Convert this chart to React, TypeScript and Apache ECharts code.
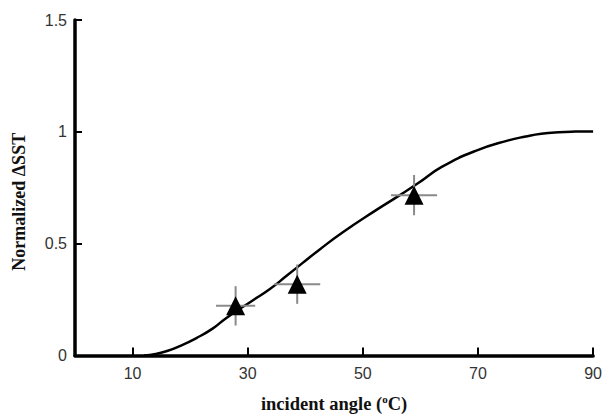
import React, { useEffect, useRef } from "react";
import * as echarts from "echarts";

// Fitted curve
const curveX = [12, 14, 16, 18.2, 21.1, 23.9, 26.3, 30.8, 33.8, 36.7, 39.5, 42.4, 46.4, 52.3, 56.3, 59.7, 63.7, 69.6, 75.3, 78.3, 81.0, 84.0, 86.9, 90];
const curveY = [0, 0.007, 0.02, 0.042, 0.078, 0.12, 0.168, 0.245, 0.296, 0.355, 0.413, 0.472, 0.549, 0.65, 0.715, 0.772, 0.843, 0.915, 0.962, 0.979, 0.991, 0.998, 1.001, 1.002];

// Measured points with error bars
const ptX = [27.9, 38.6, 58.9];
const ptY = [0.222, 0.319, 0.717];
const ptXErr = [3.4, 4.0, 4.0];
const ptYErr = [0.088, 0.088, 0.09];

const xTickValues = [10, 30, 50, 70, 90];

export default function App() {
  const ref = useRef<HTMLDivElement>(null);
  useEffect(() => {
    const chart = echarts.init(ref.current!, null, { renderer: "svg" });
    const curveData = curveX.map((x, i) => [x, curveY[i]]);
    const ptData = ptX.map((x, i) => [x, ptY[i], ptXErr[i], ptYErr[i]]);
    chart.setOption({
      animation: false,
      backgroundColor: "#fff",
      grid: { left: 75, right: 11, top: 20, bottom: 59 },
      xAxis: {
        type: "value",
        min: 0,
        max: 90,
        name: "incident angle ({sup|o}C)",
        nameLocation: "middle",
        nameGap: 38,
        nameTextStyle: {
          fontFamily: "Liberation Serif",
          fontWeight: "bold",
          fontSize: 18.5,
          color: "#111",
          rich: {
            sup: { fontFamily: "Liberation Serif", fontWeight: "bold", fontSize: 11, color: "#111", verticalAlign: "top", padding: [0, 0, 9, 0] },
          },
        },
        axisLine: { show: true, onZero: false, lineStyle: { color: "#000", width: 3.5 } },
        axisTick: { show: true, inside: true, length: 8, customValues: xTickValues, lineStyle: { color: "#000", width: 2 } },
        axisLabel: { customValues: xTickValues, fontFamily: "Liberation Sans", fontSize: 16, color: "#333", margin: 10 },
        splitLine: { show: false },
      },
      yAxis: {
        type: "value",
        min: 0,
        max: 1.5,
        interval: 0.5,
        name: "Normalized ΔSST",
        nameLocation: "middle",
        nameGap: 47,
        nameTextStyle: {
          fontFamily: "Liberation Serif",
          fontWeight: "bold",
          fontSize: 18,
          color: "#111",
          padding: [0, 28, 0, 0],
        },
        axisLine: { show: true, onZero: false, lineStyle: { color: "#000", width: 3.5 } },
        axisTick: { show: true, inside: true, length: 7, lineStyle: { color: "#000", width: 2 } },
        axisLabel: { fontFamily: "Liberation Sans", fontSize: 16, color: "#333", margin: 8 },
        splitLine: { show: false },
      },
      series: [
        {
          type: "line",
          data: curveData,
          smooth: 0.5,
          showSymbol: false,
          lineStyle: { color: "#000", width: 2.5 },
          z: 2,
        },
        {
          type: "custom",
          data: ptData,
          encode: { x: 0, y: 1 },
          z: 3,
          renderItem: (params: any, api: any) => {
            const x = api.value(0), y = api.value(1), ex = api.value(2), ey = api.value(3);
            const l = api.coord([x - ex, y]);
            const r = api.coord([x + ex, y]);
            const t = api.coord([x, y + ey]);
            const b = api.coord([x, y - ey]);
            const st = { stroke: "#8a8a8a", lineWidth: 2 };
            return {
              type: "group",
              children: [
                { type: "line", shape: { x1: l[0], y1: l[1], x2: r[0], y2: r[1] }, style: st },
                { type: "line", shape: { x1: t[0], y1: t[1], x2: b[0], y2: b[1] }, style: st },
              ],
            };
          },
        },
        {
          type: "scatter",
          data: ptData.map((d) => [d[0], d[1]]),
          symbol: "triangle",
          symbolSize: [19, 19],
          itemStyle: { color: "#000", opacity: 1 },
          z: 4,
        },
      ],
    });
    return () => chart.dispose();
  }, []);
  return <div ref={ref} style={{ position: "fixed", left: 0, top: 0, width: 605, height: 418 }} />;
}
